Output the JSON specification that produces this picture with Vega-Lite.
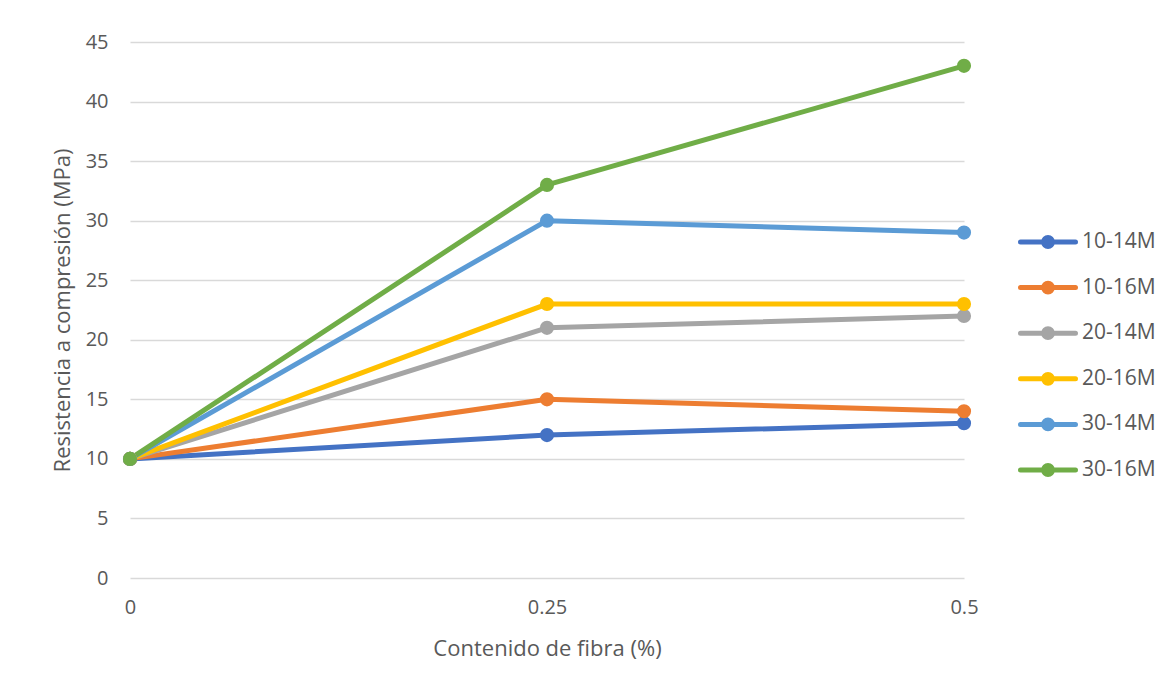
{
  "$schema": "https://vega.github.io/schema/vega-lite/v6.json",
  "width": 834,
  "height": 536,
  "autosize": {"type": "none"},
  "padding": {"left": 130, "top": 42, "right": 204, "bottom": 110},
  "background": "white",
  "config": {
    "view": {"stroke": null},
    "font": "Open Sans",
    "axis": {"labelFont": "Open Sans", "titleFont": "Open Sans", "labelColor": "#595959", "titleColor": "#595959", "labelFontSize": 20, "titleFontSize": 22, "titleFontWeight": "normal"},
    "legend": {"labelFont": "Open Sans", "labelColor": "#595959", "labelFontSize": 21}
  },
  "data": {
    "values": [
      {"fibra": 0, "mpa": 10, "serie": "10-14M"},
      {"fibra": 0.25, "mpa": 12, "serie": "10-14M"},
      {"fibra": 0.5, "mpa": 13, "serie": "10-14M"},
      {"fibra": 0, "mpa": 10, "serie": "10-16M"},
      {"fibra": 0.25, "mpa": 15, "serie": "10-16M"},
      {"fibra": 0.5, "mpa": 14, "serie": "10-16M"},
      {"fibra": 0, "mpa": 10, "serie": "20-14M"},
      {"fibra": 0.25, "mpa": 21, "serie": "20-14M"},
      {"fibra": 0.5, "mpa": 22, "serie": "20-14M"},
      {"fibra": 0, "mpa": 10, "serie": "20-16M"},
      {"fibra": 0.25, "mpa": 23, "serie": "20-16M"},
      {"fibra": 0.5, "mpa": 23, "serie": "20-16M"},
      {"fibra": 0, "mpa": 10, "serie": "30-14M"},
      {"fibra": 0.25, "mpa": 30, "serie": "30-14M"},
      {"fibra": 0.5, "mpa": 29, "serie": "30-14M"},
      {"fibra": 0, "mpa": 10, "serie": "30-16M"},
      {"fibra": 0.25, "mpa": 33, "serie": "30-16M"},
      {"fibra": 0.5, "mpa": 43, "serie": "30-16M"}
    ]
  },
  "layer": [
    {
      "mark": {"type": "line", "strokeWidth": 5, "strokeCap": "round", "strokeJoin": "round"},
      "encoding": {
        "x": {"field": "fibra", "type": "quantitative", "scale": {"domain": [0, 0.5], "nice": false},
          "axis": {"values": [0, 0.25, 0.5], "format": "~g", "labelFlush": false, "grid": false, "domain": false, "ticks": false, "labelPadding": 19, "title": "Contenido de fibra (%)", "titleX": 417, "titleY": 70, "titleBaseline": "middle", "titleAlign": "center"}},
        "y": {"field": "mpa", "type": "quantitative", "scale": {"domain": [0, 45], "nice": false},
          "axis": {"values": [0, 5, 10, 15, 20, 25, 30, 35, 40, 45], "grid": true, "gridColor": "#d9d9d9", "gridWidth": 1.5, "domain": false, "ticks": false, "labelPadding": 22, "title": "Resistencia a compresión (MPa)", "titleX": -68, "titleY": 268, "titleAngle": -90, "titleAlign": "center", "titleBaseline": "middle"}},
        "color": {"field": "serie", "type": "nominal",
          "scale": {"domain": ["10-14M", "10-16M", "20-14M", "20-16M", "30-14M", "30-16M"], "range": ["#4472C4", "#ED7D31", "#A5A5A5", "#FFC000", "#5B9BD5", "#70AD47"]},
          "legend": {"title": null, "orient": "none", "legendX": 888, "legendY": 170, "symbolType": "M-1,0L1,0M-0.16,0A0.16,0.16,0,1,1,0.16,0A0.16,0.16,0,1,1,-0.16,0Z", "symbolSize": 3025, "symbolStrokeWidth": 5, "labelOffset": 4, "rowPadding": 0.6,
            "encode": {"symbols": {"update": {"fill": {"scale": "color", "field": "value"}, "strokeCap": {"value": "round"}}}}}}
      }
    },
    {
      "mark": {"type": "point", "filled": true, "size": 200, "opacity": 1},
      "encoding": {
        "x": {"field": "fibra", "type": "quantitative"},
        "y": {"field": "mpa", "type": "quantitative"},
        "color": {"field": "serie", "type": "nominal", "legend": null}
      }
    }
  ]
}
